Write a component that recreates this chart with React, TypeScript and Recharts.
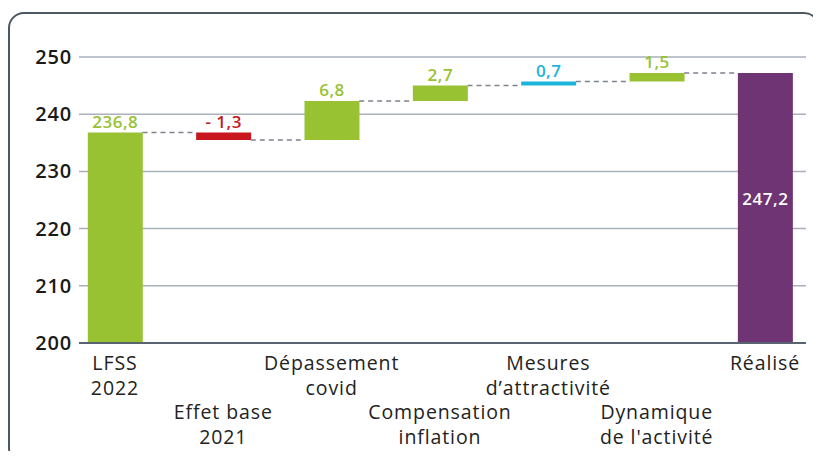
import { Bar, CartesianGrid, Cell, ComposedChart, ReferenceLine, XAxis, YAxis } from 'recharts'

const categories = [
  ['LFSS', '2022'],
  ['Effet base', '2021'],
  ['Dépassement', 'covid'],
  ['Compensation', 'inflation'],
  ['Mesures', 'd’attractivité'],
  ['Dynamique', "de l'activité"],
  ['Réalisé'],
]
const values = [236.8, -1.3, 6.8, 2.7, 0.7, 1.5, 247.2]
const isTotal = [true, false, false, false, false, false, true]
const colors = ['#98c232', '#c8171e', '#98c232', '#98c232', '#1cb4da', '#98c232', '#6e3473']
const yTicks = [200, 210, 220, 230, 240, 250]

const FONT = '"Open Sans", sans-serif'
const BAR_W = 55
const UNIT = 108.33 // px per category on the x axis
const HALF = BAR_W / 2 / UNIT

// waterfall ranges built from the values
let running = 0
const data = values.map((v, i) => {
  let lo: number
  let hi: number
  let end: number
  if (isTotal[i]) {
    lo = 200
    hi = v
    end = v
  } else {
    const next = running + v
    lo = Math.min(running, next)
    hi = Math.max(running, next)
    end = next
  }
  running = end
  const txt = (v < 0 ? '- ' : '') + Math.abs(v).toFixed(1).replace('.', ',')
  return { idx: i, range: [lo, hi], end, label: txt }
})

function XTick(props: any) {
  const { x, y, payload } = props
  const i = payload.value as number
  const lines = categories[i] || []
  const off = i % 2 === 1 ? 49 : 0
  return (
    <text
      x={x}
      y={y + 19 + off}
      textAnchor="middle"
      fontFamily={FONT}
      fontSize={19.5}
      letterSpacing={0.9}
      fill="#222"
    >
      {lines.map((l, k) => (
        <tspan key={k} x={x} dy={k === 0 ? 0 : 25}>
          {l}
        </tspan>
      ))}
    </text>
  )
}

function YTick(props: any) {
  const { x, y, payload } = props
  return (
    <text
      x={x}
      y={y}
      dy={7}
      textAnchor="end"
      fontFamily={FONT}
      fontSize={20}
      fontWeight={600}
      letterSpacing={0.8}
      fill="#1a1a1a"
    >
      {payload.value}
    </text>
  )
}

function BarLabel(props: any) {
  const { x, y, width, height, index } = props
  const d = data[index]
  if (!d) return null
  const cx = x + width / 2
  if (index === data.length - 1) {
    return (
      <text x={cx} y={y + height / 2 - 3} textAnchor="middle" fontFamily={FONT} fontSize={17} fontWeight={600} letterSpacing={0.5} fill="#fff">
        {d.label}
      </text>
    )
  }
  return (
    <text x={cx} y={y - 5} textAnchor="middle" fontFamily={FONT} fontSize={17} fontWeight={600} letterSpacing={0.5} fill={colors[index]}>
      {d.label}
    </text>
  )
}

export default function App() {
  return (
    <div style={{ position: 'relative', width: 821, height: 459, margin: -8, overflow: 'hidden', background: '#fff' }}>
      <div
        style={{
          position: 'absolute',
          left: 8,
          top: 12,
          width: 812,
          height: 452,
          border: '2px solid #4d5762',
          borderRadius: 16,
          boxSizing: 'border-box',
        }}
      />
      <div style={{ position: 'absolute', left: 0, top: 0 }}>
        <ComposedChart width={821} height={459} data={data} margin={{ top: 57, right: 15, bottom: 0, left: 0 }}>
          <CartesianGrid horizontal vertical={false} stroke="#a9b1bd" strokeWidth={1.5} />
          <XAxis
            type="number"
            dataKey="idx"
            domain={[-0.332, 6.378]}
            ticks={[0, 1, 2, 3, 4, 5, 6]}
            allowDataOverflow
            height={116}
            tick={<XTick />}
            tickLine={false}
            axisLine={{ stroke: '#5a6470', strokeWidth: 2 }}
            interval={0}
          />
          <YAxis
            type="number"
            domain={[200, 250]}
            ticks={yTicks}
            width={79}
            tick={<YTick />}
            tickSize={0}
            tickMargin={7}
            axisLine={false}
            tickLine={false}
          />
          {data.slice(0, -1).map((d, i) => (
            <ReferenceLine
              key={i}
              segment={[
                { x: i + HALF, y: d.end },
                { x: i + 1 - HALF, y: d.end },
              ]}
              stroke="#7d838b"
              strokeWidth={1.5}
              strokeDasharray="5 4"
            />
          ))}
          <Bar dataKey="range" barSize={BAR_W} isAnimationActive={false} label={<BarLabel />}>
            {data.map((d, i) => (
              <Cell key={i} fill={colors[i]} />
            ))}
          </Bar>
        </ComposedChart>
      </div>
    </div>
  )
}
